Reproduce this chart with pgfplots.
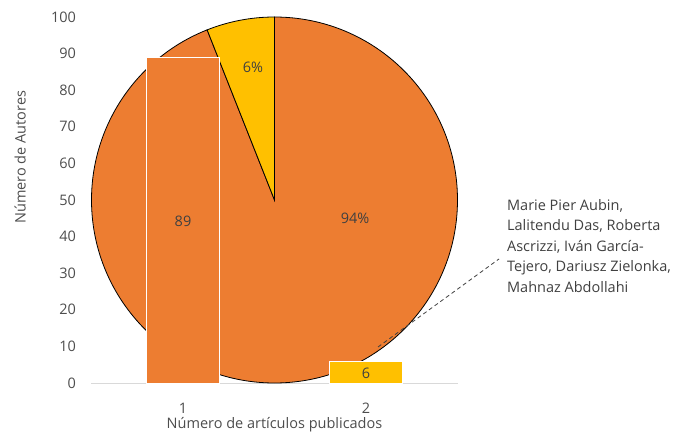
\documentclass[border=0pt]{standalone}
\usepackage{pgfplots}
\pgfplotsset{compat=1.18}
\usepackage{fontspec}
\setmainfont{Open Sans}
\usetikzlibrary{calc}
\definecolor{pieorange}{HTML}{ED7D31}
\definecolor{pieyellow}{HTML}{FFC000}
\definecolor{txtgray}{HTML}{4D4D4D}
\definecolor{lblgray}{HTML}{404040}
\definecolor{axgray}{HTML}{D9D9D9}
\begin{document}
\begin{tikzpicture}
\begin{axis}[
  scale only axis,
  width=366bp, height=366bp,
  xmin=0.5, xmax=2.5, ymin=0, ymax=100,
  xtick={1,2}, ytick={0,10,...,100},
  major tick length=0pt,
  axis x line*=bottom, axis y line*=left,
  y axis line style={draw=none},
  x axis line style={draw=axgray, line width=0.8bp, -},
  /pgf/number format/assume math mode=true,
  tick label style={font=\fontsize{14.5bp}{16bp}\selectfont, text=txtgray},
  xticklabel style={yshift=-16.5bp},
  yticklabel style={xshift=-12bp},
  xlabel={Número de artículos publicados},
  ylabel={Número de Autores},
  label style={font=\fontsize{14.5bp}{16bp}\selectfont, text=txtgray},
  xlabel style={at={(axis description cs:0.5,-0.1148)}, anchor=center},
  ylabel style={at={(axis description cs:-0.195,0.617)}, anchor=center, rotate=0},
  ybar, bar width=0.4, bar shift=0pt,
  clip=false,
  visualization depends on=y \as \rawy,
  nodes near coords,
  every node near coord/.append style={anchor=center, shift={(axis direction cs:0,-\rawy/2)}, yshift=-1.5bp, font=\fontsize{14.5bp}{16bp}\selectfont, text=lblgray},
]
% pie (94% / 6%)
\fill[pieorange, draw=black, line width=0.8bp] let \p1=(axis cs:1.5,50), \p2=(axis cs:2.5,100) in
  (\p1) -- (\x1,\y2) arc[start angle=90, end angle=-248.4, x radius={\x2-\x1}, y radius={\y2-\y1}] -- cycle;
\fill[pieyellow, draw=black, line width=0.8bp] let \p1=(axis cs:1.5,50), \p2=(axis cs:2.5,100) in
  (\p1) -- (\x1,\y2) arc[start angle=90, end angle=111.6, x radius={\x2-\x1}, y radius={\y2-\y1}] -- cycle;
\node[font=\fontsize{14.5bp}{16bp}\selectfont, text=lblgray] at (axis cs:1.3825,86.3) {6\%};
\node[font=\fontsize{14.5bp}{16bp}\selectfont, text=lblgray] at (axis cs:1.94,45.1) {94\%};
% bars
\addplot[fill=pieorange, draw=white, line width=0.8bp] coordinates {(1,89)};
\addplot[fill=pieyellow, draw=white, line width=0.8bp] coordinates {(2,6)};
% leader line and annotation
\draw[lblgray, line width=0.8bp, dash pattern=on 4bp off 3bp] (axis cs:2.0656,9.84) -- (axis cs:2.727,33.9);
\node[anchor=north west, inner sep=0pt, align=left, text=lblgray, font=\fontsize{14.5bp}{20.5bp}\selectfont] at (axis cs:2.770,50.2)
  {Marie Pier Aubin,\\Lalitendu Das, Roberta\\Ascrizzi, Iván García-\\Tejero, Dariusz Zielonka,\\Mahnaz Abdollahi};
\end{axis}
\pgfresetboundingbox
\path (-91.5bp,-51bp) rectangle (586.5bp,383bp);
\end{tikzpicture}
\end{document}
